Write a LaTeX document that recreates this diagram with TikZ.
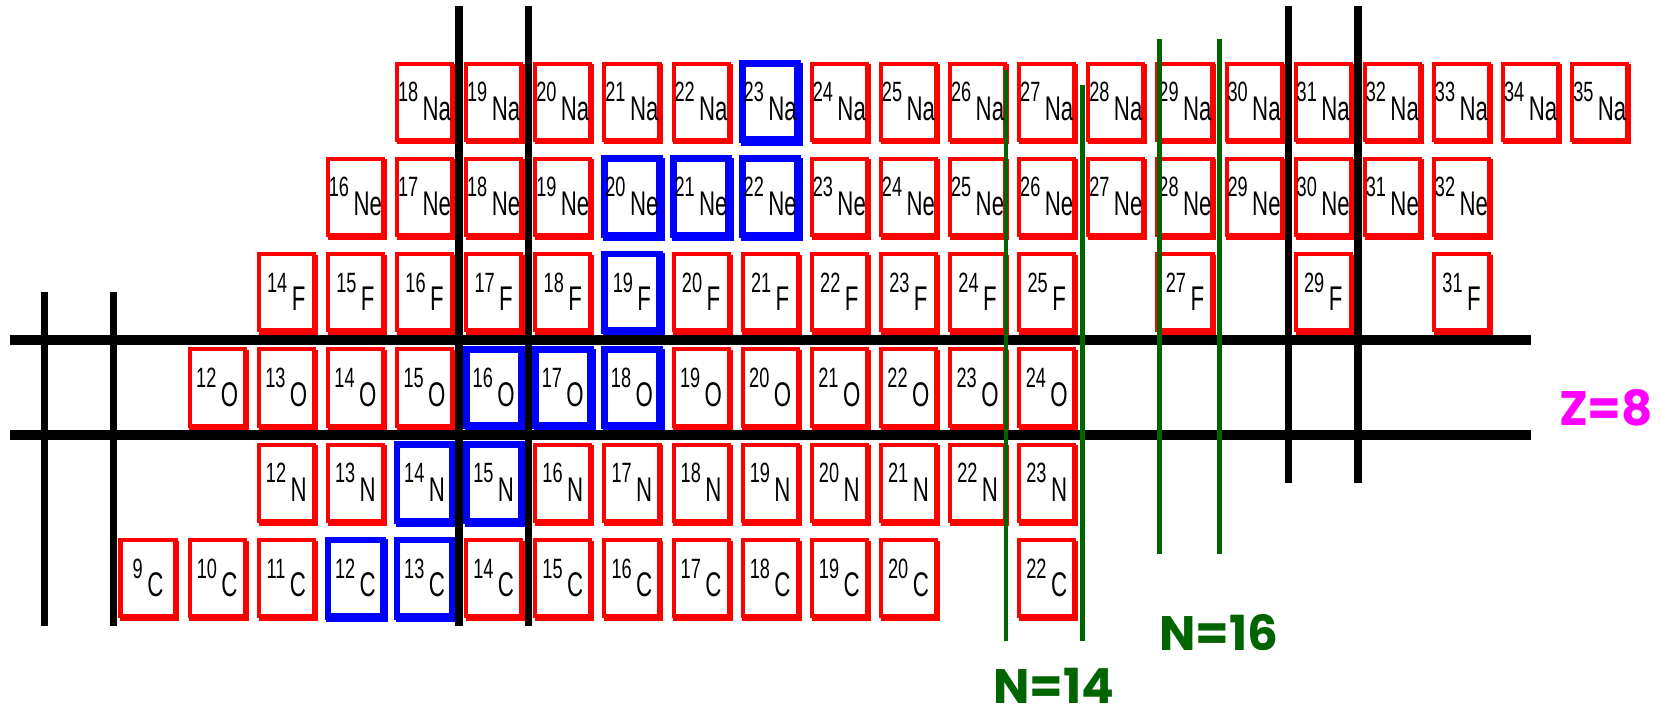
\documentclass[tikz,border=0pt]{standalone}
\usepackage{fontspec}
\usetikzlibrary{shadows}
\newfontfamily\pixfont[FakeStretch=0.65]{Liberation Sans}
\newfontfamily\labelfont{Poppins}
\definecolor{isored}{RGB}{255,0,0}
\definecolor{stableblue}{RGB}{0,0,255}
\definecolor{magicgreen}{RGB}{0,100,0}
\definecolor{zpink}{RGB}{255,0,255}
\newcommand{\massno}[1]{\raisebox{5pt}{\fontsize{7.5}{8}\selectfont #1}\hspace{1.2pt}}

\begin{document}
\begin{tikzpicture}[
    x=0.653cm, y=0.9cm,
    nucbox/.style={
        fill=white,
        minimum width=0.52cm,
        minimum height=0.72cm,
        inner sep=0pt,
        text height=10pt,
        text depth=0pt,
        text=black,
        font=\pixfont\fontsize{9.2}{10}\selectfont
    },
    iso/.style={
        nucbox,
        draw=isored,
        line width=1.1pt,
        general shadow={shadow xshift=0.5pt, shadow yshift=-0.7pt,
            draw=isored, fill=isored, line width=1.1pt}
    },
    stable/.style={
        nucbox,
        draw=stableblue,
        line width=1.8pt,
        general shadow={shadow xshift=0.5pt, shadow yshift=-0.7pt,
            draw=stableblue, fill=stableblue, line width=1.8pt}
    },
    zline/.style={line width=2.85pt},
    nline/.style={line width=2pt},
    newmagic/.style={draw=magicgreen, line width=1.2pt},
    magic/.style={inner sep=0pt, font=\labelfont\bfseries\fontsize{13}{14}\selectfont}
]

\useasboundingbox (0.859,4.567) rectangle (24.871,12.067);

% ============================================================
% Na (Z=11)
% ============================================================

\foreach \a in {18,...,22,24,25,...,35}
    \node[iso] (na\a) at (\a-11,11) {\massno{\a}Na};
\node[stable] (na23) at (12,11) {\massno{23}Na};

% ============================================================
% Ne (Z=10)
% ============================================================

\foreach \a in {16,...,19,23,24,...,32}
    \node[iso] (ne\a) at (\a-10,10) {\massno{\a}Ne};
\foreach \a in {20,21,22}
    \node[stable] (ne\a) at (\a-10,10) {\massno{\a}Ne};

% ============================================================
% F (Z=9)
% ============================================================

\foreach \a in {14,...,18,20,21,...,25,27,29,31}
    \node[iso] (f\a) at (\a-9,9) {\massno{\a}F};
\node[stable] (f19) at (10,9) {\massno{19}F};

% ============================================================
% O (Z=8)
% ============================================================

\foreach \a in {12,...,15,19,20,...,24}
    \node[iso] (o\a) at (\a-8,8) {\massno{\a}O};
\foreach \a in {16,17,18}
    \node[stable] (o\a) at (\a-8,8) {\massno{\a}O};

% ============================================================
% N (Z=7)
% ============================================================

\foreach \a in {12,13,16,17,...,23}
    \node[iso] (n\a) at (\a-7,7) {\massno{\a}N};
\foreach \a in {14,15}
    \node[stable] (n\a) at (\a-7,7) {\massno{\a}N};

% ============================================================
% C (Z=6)
% ============================================================

\foreach \a in {9,...,11,14,15,...,20,22}
    \node[iso] (c\a) at (\a-6,6) {\massno{\a}C};
\foreach \a in {12,13}
    \node[stable] (c\a) at (\a-6,6) {\massno{\a}C};

% ============================================================
% Shell closures
% ============================================================

\draw[zline] (1,8.5) -- (23,8.5);
\draw[zline] (1,7.5) -- (23,7.5);

\draw[nline] (1.5,9) -- (1.5,5.5);
\draw[nline] (2.5,9) -- (2.5,5.5);
\draw[nline] (7.5,12) -- (7.5,5.5);
\draw[nline] (8.5,12) -- (8.5,5.5);
\draw[nline] (19.5,12) -- (19.5,7);
\draw[nline] (20.5,12) -- (20.5,7);

\draw[newmagic] (15.41,11.33) -- (15.41,5.34);
\draw[newmagic] (16.52,11.18) -- (16.52,5.34);
\draw[newmagic] (17.63,11.66) -- (17.63,6.25);
\draw[newmagic] (18.50,11.66) -- (18.50,6.25);

\node[magic, text=magicgreen] (n14) at (16.10,4.87) {N=14};
\node[magic, text=magicgreen] (n16) at (18.49,5.43) {N=16};
\node[magic, text=zpink] (z8) at (24.09,7.79) {Z=8};

\end{tikzpicture}
\end{document}
